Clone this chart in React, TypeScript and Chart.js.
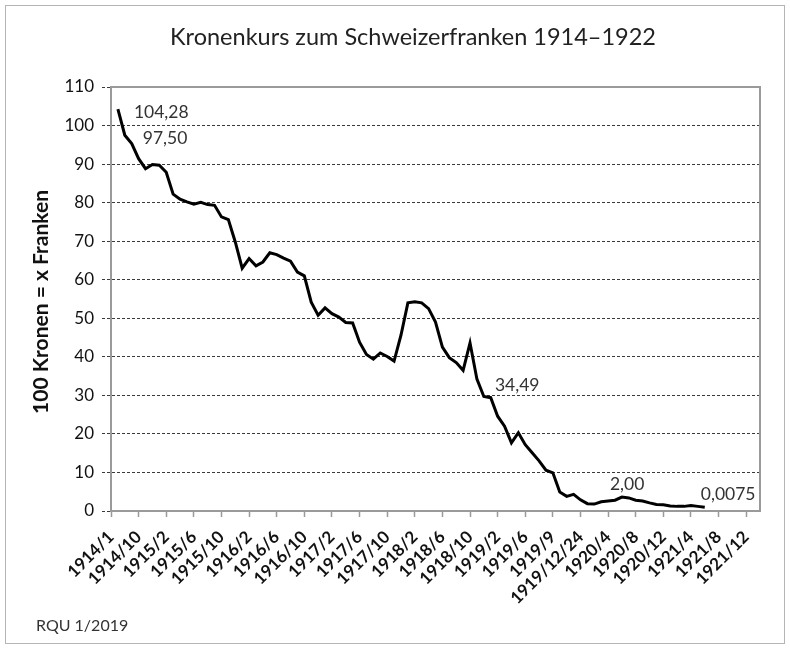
import React, { useEffect, useRef } from "react";
import { Chart, registerables } from "chart.js";

Chart.register(...registerables);

// Category axis labels (one every 4 data slots)
const tickLabels = [
  "1914/1", "1914/10", "1915/2", "1915/6", "1915/10", "1916/2", "1916/6", "1916/10",
  "1917/2", "1917/6", "1917/10", "1918/2", "1918/6", "1918/10", "1919/2", "1919/6",
  "1919/9", "1919/12/24", "1920/4", "1920/8", "1920/12", "1921/4", "1921/8", "1921/12",
];
const SLOTS_PER_LABEL = 4;
const FIRST_POINT_SLOT = 1;
const AXIS_MAX_SLOT = 94;

// 100 Kronen = x Franken
const kurs = [
  104.28, 97.5, 95.3, 91.4, 88.8, 89.9, 89.7, 87.9, 82.2, 80.9,
  80.2, 79.6, 80.1, 79.5, 79.3, 76.3, 75.6, 69.8, 63.0, 65.5,
  63.6, 64.6, 67.0, 66.5, 65.6, 64.8, 62.0, 61.0, 54.2, 50.8,
  52.7, 51.2, 50.3, 48.9, 48.8, 43.8, 40.6, 39.4, 41.0, 40.1,
  38.9, 45.6, 54.0, 54.3, 54.0, 52.5, 49.0, 42.5, 39.8, 38.5,
  36.5, 43.6, 34.2, 29.7, 29.4, 24.6, 22.0, 17.7, 20.3, 17.2,
  15.1, 13.0, 10.6, 9.9, 4.9, 3.8, 4.3, 2.9, 1.9, 1.8,
  2.4, 2.6, 2.8, 3.6, 3.4, 2.8, 2.6, 2.1, 1.7, 1.6,
  1.3, 1.2, 1.2, 1.4, 1.2, 0.95,
];

// value labels, attached to a data point (index into kurs)
const labelTexts = ["104,28", "97,50", "34,49", "2,00", "0,0075"];
const labelPoints = [0, 1, 52, 73, 85];
const labelOffsets: [number, number][] = [
  [16, 3],
  [18, 3],
  [18, 6],
  [-12, -13],
  [-4, -13],
];

const TITLE = "Kronenkurs zum Schweizerfranken 1914–1922";
const Y_TITLE = "100 Kronen = x Franken";
const FOOTER = "RQU 1/2019";

const FONT = "Lato, 'Open Sans', sans-serif";

const decorPlugin = {
  id: "decor",
  beforeDatasetsDraw(chart: any) {
    const { ctx, chartArea } = chart;
    ctx.save();
    ctx.strokeStyle = "#9a9a9a";
    ctx.lineWidth = 2;
    ctx.strokeRect(chartArea.left, chartArea.top, chartArea.right - chartArea.left, chartArea.bottom - chartArea.top);
    ctx.restore();
  },
  afterDraw(chart: any) {
    const { ctx, chartArea, scales } = chart;
    ctx.save();
    // outer frame
    ctx.strokeStyle = "#b5b5b5";
    ctx.lineWidth = 1;
    ctx.strokeRect(5.5, 5.5, 779, 638);
    // title
    ctx.fillStyle = "#222";
    ctx.textAlign = "center";
    ctx.textBaseline = "middle";
    ctx.font = `23.5px ${FONT}`;
    ctx.fillText(TITLE, 413, 37);
    // y title
    ctx.save();
    ctx.translate(41, (chartArea.top + chartArea.bottom) / 2 + 3);
    ctx.rotate(-Math.PI / 2);
    ctx.font = `bold 21px ${FONT}`;
    ctx.fillStyle = "#111";
    ctx.fillText(Y_TITLE, 0, 0);
    ctx.restore();
    // footer
    ctx.textAlign = "left";
    ctx.font = `16px ${FONT}`;
    ctx.fillStyle = "#333";
    ctx.fillText(FOOTER, 36, 626);
    // value labels
    ctx.font = `17.5px ${FONT}`;
    ctx.fillStyle = "#333";
    labelTexts.forEach((t, k) => {
      const idx = labelPoints[k];
      const px = scales.x.getPixelForValue(FIRST_POINT_SLOT + idx);
      const py = scales.y.getPixelForValue(kurs[idx]);
      ctx.fillText(t, px + labelOffsets[k][0], py + labelOffsets[k][1]);
    });
    ctx.restore();
  },
};

export default function App() {
  const ref = useRef<HTMLCanvasElement | null>(null);
  useEffect(() => {
    if (!ref.current) return;
    const chart = new Chart(ref.current, {
      type: "line",
      data: {
        datasets: [
          {
            data: kurs.map((v, i) => ({ x: FIRST_POINT_SLOT + i, y: v })),
            borderColor: "#000",
            borderWidth: 3,
            pointRadius: 0,
            tension: 0,
            fill: false,
          },
        ],
      },
      options: {
        animation: false,
        responsive: false,
        maintainAspectRatio: false,
        parsing: false as any,
        layout: { padding: { left: 0, right: 30, top: 87, bottom: 0 } },
        plugins: {
          legend: { display: false },
          title: { display: false },
          tooltip: { enabled: false },
        },
        scales: {
          x: {
            type: "linear",
            min: 0,
            max: AXIS_MAX_SLOT,
            afterBuildTicks: (s: any) => {
              s.ticks = tickLabels.map((_, k) => ({ value: k * SLOTS_PER_LABEL }));
            },
            afterFit: (s: any) => {
              s.height = 649 - 511;
            },
            ticks: {
              autoSkip: false,
              maxRotation: 45,
              minRotation: 45,
              padding: 10,
              color: "#111",
              font: { family: FONT, size: 17, weight: "bold" },
              callback: (_v: any, i: number) => tickLabels[i],
            },
            grid: {
              drawOnChartArea: false,
              drawTicks: true,
              tickLength: 6,
              tickColor: "#9a9a9a",
              tickWidth: 1.5,
            },
            border: { color: "#9a9a9a", width: 2 },
          },
          y: {
            min: 0,
            max: 110,
            afterFit: (s: any) => {
              s.width = 111;
            },
            ticks: {
              stepSize: 10,
              padding: 8,
              color: "#111",
              font: { family: FONT, size: 17 },
            },
            grid: {
              color: "#3a3a3a",
              lineWidth: 1,
              tickLength: 9,
              tickColor: "#3a3a3a",
              tickBorderDash: [3, 2],
            },
            border: { color: "#9a9a9a", width: 2, dash: [3, 2] },
          },
        },
      },
      plugins: [decorPlugin],
    });
    return () => chart.destroy();
  }, []);
  return (
    <div style={{ position: "absolute", left: 0, top: 0, width: 790, height: 649, background: "#fff" }}>
      <canvas ref={ref} width={790} height={649} style={{ display: "block" }} />
    </div>
  );
}
